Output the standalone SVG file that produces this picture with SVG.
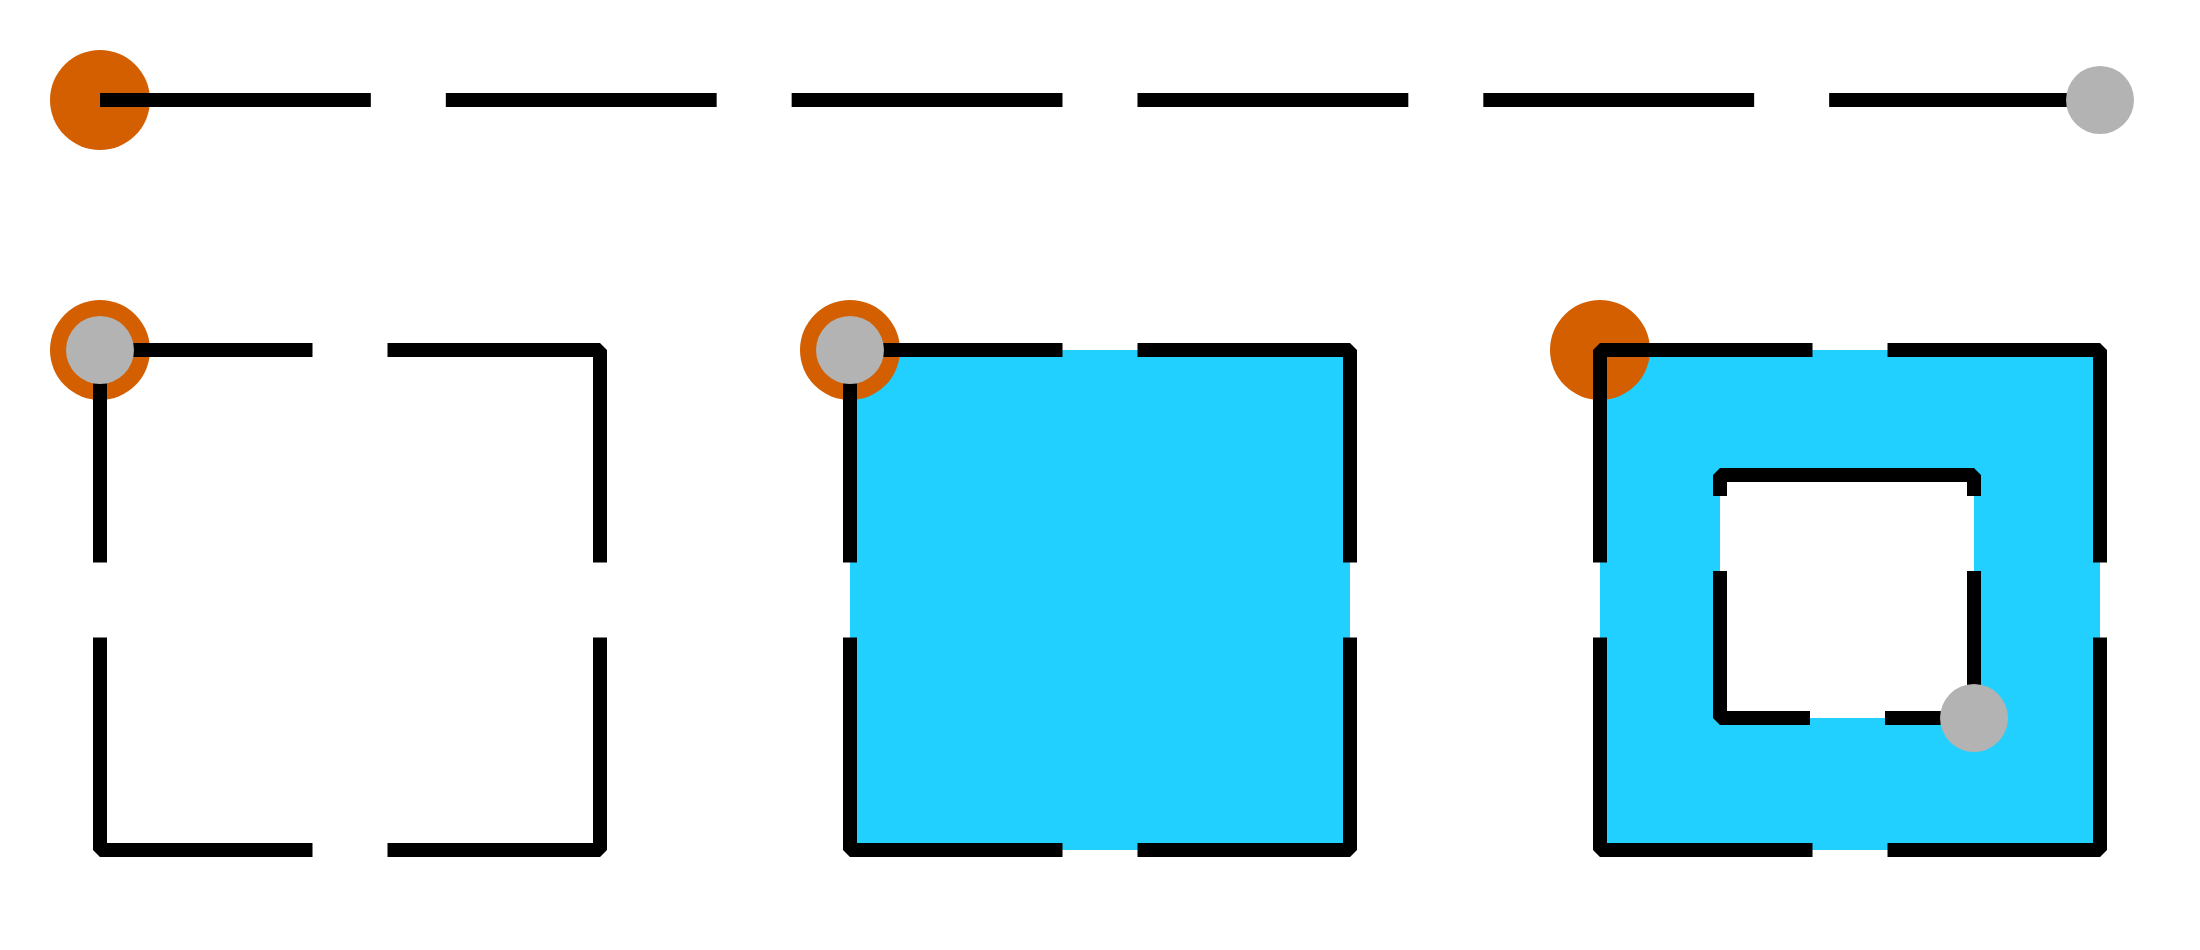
<svg xmlns="http://www.w3.org/2000/svg" width="2200" height="950" viewBox="0 0 2200 950">
  <style>
    .bg { fill: #ffffff; }
    .start { fill: #d35f00; }
    .end { fill: #b3b3b3; }
    .area { fill: #22d0ff; stroke: none; fill-rule: evenodd; }
    .edge { fill: none; stroke: #000000; stroke-width: 14; stroke-linejoin: bevel; stroke-linecap: butt; }
    .sq { stroke-dasharray: 425 75; }
    .ln { stroke-dasharray: 270.83 75; }
    .inner { stroke-dasharray: 147 75 296 75 237 75 89 75; }
  </style>
  <rect class="bg" x="0" y="0" width="2200" height="950"/>

  <g id="line-open">
    <circle class="start" cx="100" cy="100" r="50"/>
    <path class="edge ln" d="M100,100 H2100"/>
    <circle class="end" cx="2100" cy="100" r="34"/>
  </g>

  <g id="square-unfilled">
    <circle class="start" cx="100" cy="350" r="50"/>
    <path class="edge sq" d="M387.5,350 H600 V850 H100 V350 Z"/>
    <circle class="end" cx="100" cy="350" r="34"/>
  </g>

  <g id="square-filled">
    <path class="area" d="M850,350 H1350 V850 H850 Z"/>
    <circle class="start" cx="850" cy="350" r="50"/>
    <path class="edge sq" d="M1137.5,350 H1350 V850 H850 V350 Z"/>
    <circle class="end" cx="850" cy="350" r="34"/>
  </g>

  <g id="square-with-hole">
    <path class="area" d="M1600,350 H2100 V850 H1600 Z M1720,475 H1974 V718 H1720 Z"/>
    <circle class="start" cx="1600" cy="350" r="50"/>
    <path class="edge sq" d="M1887.5,350 H2100 V850 H1600 V350 Z"/>
    <path class="edge inner" d="M1974,718 V475 H1720 V718 Z"/>
    <circle class="end" cx="1974" cy="718" r="34"/>
  </g>
</svg>
